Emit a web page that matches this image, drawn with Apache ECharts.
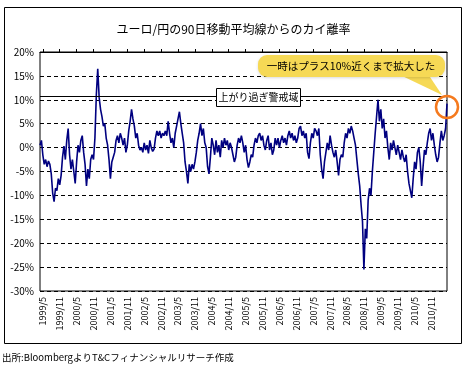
<!DOCTYPE html>
<html><head><meta charset="utf-8">
<script src="https://cdn.jsdelivr.net/npm/echarts@6.0.0/dist/echarts.min.js"></script>
<style>html,body{margin:0;padding:0;background:#fff;}#c{width:467px;height:365px;}</style>
</head><body><div id="c"></div>
<script>
// Semi-monthly observations (1st and 16th of each month) starting 1999/4
const startYear = 1999, startMonth = 4;
const deviation = [
 0.5, 1.5, -1.5, -3.5, -2.5, -4.0, -2.8, -3.5, -5.5, -9.5, -11.3, -8.5,
 -9.0, -6.5, -7.8, -5.8, -2.0, 0.3, -2.5, 1.5, 4.0, -1.5, -4.5, -2.5,
 -5.0, -7.5, -3.0, 0.5, -1.0, 1.5, 2.5, -1.0, -3.5, -8.0, -4.5, -6.5,
 -2.5, -1.5, -2.5, 2.0, 11.0, 16.5, 10.5, 8.0, 6.5, 4.5, 5.0, 2.0,
 0.5, -2.5, -6.5, -3.0, -2.0, -1.0, 1.5, 2.5, 1.0, 3.0, 2.0, 0.5,
 2.0, -1.0, 0.5, 3.5, 5.5, 8.0, 6.0, 4.5, 2.0, 3.0, 0.5, -0.5,
 0.0, -1.0, 1.0, -0.5, 0.5, -1.2, 1.5, 0.0, -0.8, -0.3, 2.0, 3.5,
 2.5, 3.5, 2.0, 3.0, 2.5, 3.5, 2.5, 5.5, 3.0, 1.0, 2.0, 0.0,
 3.0, 4.5, 6.0, 7.5, 5.0, 3.0, 1.0, -3.0, -5.0, -7.5, -3.5, -5.0,
 -3.5, -4.5, -3.0, -1.0, 1.5, 3.0, 5.0, 2.5, 4.0, 1.0, 0.0, -4.0,
 -5.5, -2.0, 2.0, 0.5, -1.5, 1.5, -1.0, 0.5, -2.0, 1.5, 0.0, 2.0,
 0.5, 1.5, -0.5, 1.0, 0.0, -1.5, -3.0, -2.0, 0.5, 2.0, 1.0, 2.5,
 1.0, -1.0, 0.5, -2.5, -4.2, -3.0, -1.5, -2.0, 0.5, 2.0, 1.0, 2.5,
 3.0, 1.5, 2.5, 0.5, -0.5, 1.5, 2.5, -0.5, 1.0, -1.5, -0.5, 2.0,
 0.5, 2.0, 0.0, 1.5, 2.5, 1.0, 2.0, 0.5, 2.5, 3.5, 2.0, 3.0,
 1.5, 2.5, 1.0, 2.0, 4.0, 4.5, 2.5, 3.5, 2.0, 3.0, -1.0, -2.3,
 1.0, 3.0, 2.0, 4.0, 3.5, 2.5, 4.0, -1.5, -4.5, -6.5, -3.0, -1.0,
 1.0, -0.5, 2.5, 0.5, -1.0, -2.0, -0.5, -3.0, -5.8, -2.5, -1.5, -2.0,
 1.0, 3.0, 2.0, 4.0, 3.0, 4.5, 3.5, 2.0, 0.5, -2.5, -5.5, -8.0,
 -12.0, -15.5, -25.5, -17.0, -19.0, -11.0, -8.5, -10.0, -5.0, -1.0, 3.0, 6.5,
 10.0, 5.5, 8.0, 4.0, 6.0, 2.0, 3.5, 0.0, -2.5, 1.0, -0.5, 1.5,
 0.0, -1.5, 0.5, -1.0, -2.5, -0.5, -2.0, -3.0, -1.5, -5.0, -7.5, -9.0,
 -10.5, -6.5, -3.0, -4.5, -1.0, 0.0, -3.0, -8.0, -4.0, -0.5, -1.5, 1.0,
 3.0, 4.0, 1.5, 3.0, 0.5, -1.5, -3.0, -2.0, 1.0, 3.5, 1.5, 2.5, 4.0, 9.2
];
// x tick labels: every 6 months
const tickLabels = ['1999/5','1999/11','2000/5','2000/11','2001/5','2001/11','2002/5','2002/11',
 '2003/5','2003/11','2004/5','2004/11','2005/5','2005/11','2006/5','2006/11',
 '2007/5','2007/11','2008/5','2008/11','2009/5','2009/11','2010/5','2010/11'];
const yTicks = [20, 15, 10, 5, 0, -5, -10, -15, -20, -25, -30];
const titleText = 'ユーロ/円の90日移動平均線からのカイ離率';
const sourceText = '出所:BloombergよりT&Cフィナンシャルリサーチ作成';
const warnText = '上がり過ぎ警戒域';
const calloutText = '一時はプラス10%近くまで拡大した';
const warnLevel = 10.8;

// x position measured in months since 1999/1
function monthPos(y, m, half) { return (y - startYear) * 12 + (m - 1) + (half ? 0.5 : 0); }
const points = deviation.map((v, i) => {
  const mIdx = startMonth - 1 + Math.floor(i / 2);
  const y = startYear + Math.floor(mIdx / 12);
  const m = (mIdx % 12) + 1;
  return [monthPos(y, m, i % 2 === 1), v];
});
const labelValues = tickLabels.map(s => { const [y, m] = s.split('/').map(Number); return monthPos(y, m, false); });
const labelMap = {};
tickLabels.forEach((s, i) => { labelMap[labelValues[i]] = s; });
const xMin = points[0][0], xMax = points[points.length - 1][0];
const FONT = '"Noto Sans CJK JP", "Noto Sans", sans-serif';

const chart = echarts.init(document.getElementById('c'));
chart.setOption({
  animation: false,
  backgroundColor: '#fff',
  title: { text: titleText, left: 'center', top: 18, textStyle: { fontSize: 12, fontWeight: 'normal', color: '#000', fontFamily: FONT } },
  grid: { left: 40, top: 52, width: 407, height: 239, show: true, borderColor: '#000', borderWidth: 1, containLabel: false },
  xAxis: [
    { type: 'value', min: xMin, max: xMax, position: 'bottom',
      axisLine: { show: false }, axisTick: { show: false }, splitLine: { show: false },
      axisLabel: { customValues: labelValues, rotate: 90, fontSize: 9, color: '#000', margin: 6, fontFamily: FONT,
        showMinLabel: true, showMaxLabel: true,
        formatter: v => labelMap[v] || '' } },
    { type: 'value', min: xMin, max: xMax, position: 'top',
      axisLine: { show: true, onZero: true, lineStyle: { color: '#000', width: 1 } },
      axisTick: { show: true, customValues: labelValues, length: 3, lineStyle: { color: '#000' } },
      axisLabel: { show: false }, splitLine: { show: false } }
  ],
  yAxis: { type: 'value', min: yTicks[yTicks.length - 1], max: yTicks[0], interval: 5,
    axisLine: { show: false }, axisTick: { show: false },
    axisLabel: { formatter: '{value}%', fontSize: 10, color: '#000', margin: 6, fontFamily: FONT },
    splitLine: { lineStyle: { color: '#000', type: [4, 3], width: 1 } } },
  series: [{
    type: 'line', xAxisIndex: 0, data: points, symbol: 'none',
    lineStyle: { color: '#000080', width: 1.6 },
    markLine: { silent: true, symbol: 'none', label: { show: false },
      lineStyle: { color: '#000', type: 'solid', width: 1.2 }, data: [{ yAxis: warnLevel }] },
    z: 3
  }],
  graphic: [
    { type: 'rect', shape: { x: 4.5, y: 7.5, width: 457, height: 336 }, style: { fill: 'none', stroke: '#000', lineWidth: 1 }, z: 0 },
    { type: 'rect', shape: { x: 216.5, y: 88.5, width: 84, height: 18 }, style: { fill: '#fff', stroke: '#000', lineWidth: 1 }, z: 10 },
    { type: 'text', x: 258.5, y: 97.5, style: { text: warnText, fontSize: 10, fontFamily: FONT, fill: '#000', align: 'center', verticalAlign: 'middle' }, z: 11 },
    { type: 'polygon', shape: { points: [[398, 74], [428, 74], [442, 95]] }, style: { fill: '#F6D955' }, z: 10 },
    { type: 'rect', shape: { x: 258, y: 55, width: 187, height: 22, r: 9 }, style: { fill: '#F6D955', shadowBlur: 3, shadowColor: 'rgba(0,0,0,0.15)', shadowOffsetY: 1 }, z: 10 },
    { type: 'text', x: 351, y: 66, style: { text: calloutText, fontSize: 10.5, fontFamily: FONT, fill: '#000', align: 'center', verticalAlign: 'middle' }, z: 11 },
    { type: 'circle', shape: { cx: 447, cy: 107, r: 11 }, style: { fill: 'none', stroke: '#F57A1E', lineWidth: 2.5 }, z: 12 },
    { type: 'text', x: 2, y: 357, style: { text: sourceText, fontSize: 9.5, fontFamily: FONT, fill: '#000', verticalAlign: 'middle' }, z: 11 }
  ]
});
</script></body></html>
